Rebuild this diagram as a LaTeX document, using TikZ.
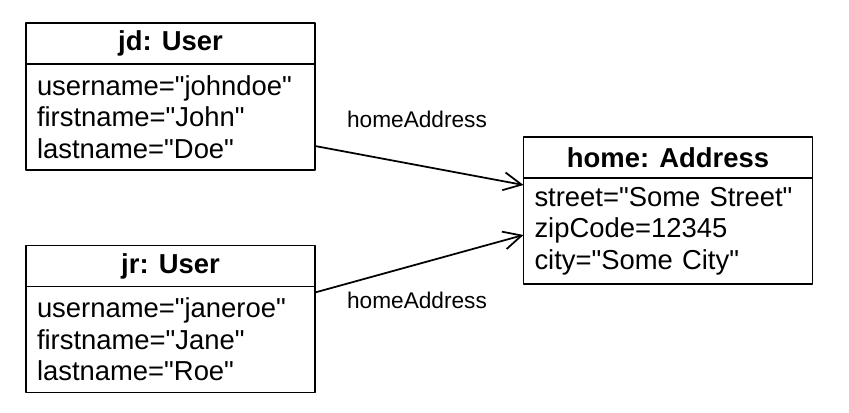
\documentclass[tikz,border=0pt]{standalone}
\usepackage{fontspec}
\setmainfont{Liberation Sans}
\usetikzlibrary{positioning,arrows.meta}
\newcommand{\dq}{\textquotedbl}

\begin{document}
\begin{tikzpicture}[line cap=round,line join=round,
    headbox/.style={draw,line width=1pt,outer sep=0pt,minimum width=5.78cm,
      minimum height=0.82cm,inner sep=0pt,font=\fontsize{15.6pt}{17.9pt}\selectfont\bfseries},
    bodybox/.style={draw,line width=1pt,outer sep=0pt,minimum width=5.78cm,
      minimum height=2.12cm,inner xsep=0.22cm,inner ysep=0pt,text width=5.34cm,
      align=left,font=\fontsize{15.6pt}{17.9pt}\selectfont},
    linklabel/.style={anchor=base,inner sep=0pt,font=\fontsize{12.9pt}{15pt}\selectfont},
    link/.style={line width=1pt,-{Straight Barb[length=0.36cm,width=0.36cm,line width=1pt]}}]
  \useasboundingbox (0,0) rectangle (16.98,-8.26);
  % objects
  \node[headbox] (jdHead) at (3.41,-0.87) {jd: User};
  \node[bodybox,below=0pt of jdHead] (jdBody)
    {username=\dq johndoe\dq\\firstname=\dq John\dq\\lastname=\dq Doe\dq};
  \node[headbox] (jrHead) at (3.41,-5.32) {jr: User};
  \node[bodybox,below=0pt of jrHead] (jrBody)
    {username=\dq janeroe\dq\\firstname=\dq Jane\dq\\lastname=\dq Roe\dq};
  \node[headbox] (homeHead) at (13.36,-3.15) {home: Address};
  \node[bodybox,below=0pt of homeHead] (homeBody)
    {street=\dq Some Street\dq\\zipCode=12345\\city=\dq Some City\dq};
  % links
  \draw[link] ([yshift=-0.58cm]jdBody.east) -- ([yshift=0.92cm]homeBody.west);
  \draw[link] ([yshift=0.94cm]jrBody.east) -- ([yshift=-0.08cm]homeBody.west);
  \node[linklabel] (jdLink) at (8.34,-2.54) {homeAddress};
  \node[linklabel] (jrLink) at (8.34,-6.16) {homeAddress};
\end{tikzpicture}
\end{document}
